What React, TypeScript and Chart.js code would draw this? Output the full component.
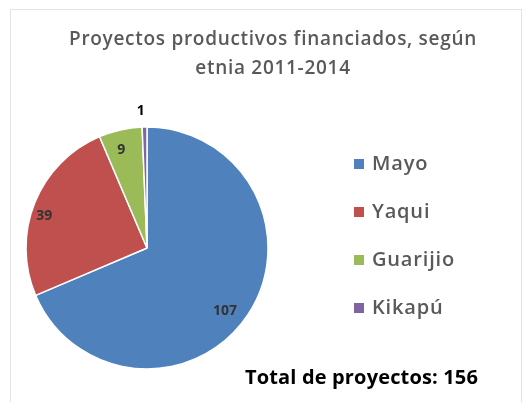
import React, { useEffect, useRef } from "react";
import { Chart, registerables } from "chart.js";

Chart.register(...registerables);

const titleLines = ["Proyectos productivos financiados, según", "etnia 2011-2014"];
const categories = ["Mayo", "Yaqui", "Guarijio", "Kikapú"];
const values = [107, 39, 9, 1];
const colors = ["#4F81BD", "#C0504D", "#9BBB59", "#8064A2"];
const totalPrefix = "Total de proyectos: ";

// label placement (style): fraction of radius and angle shift in degrees
const labelRadius = [0.83, 0.89, 0.84, 1.13];
const labelShift = [5.5, -4.5, -2, -1.5];

const FONT = "'Open Sans', sans-serif";

function fitText(ctx: CanvasRenderingContext2D, text: string, width: number) {
  // letter spacing so that the text spans the wanted width
  (ctx as any).letterSpacing = "0px";
  const w = ctx.measureText(text).width;
  const ls = Math.max(0, (width - w) / text.length);
  (ctx as any).letterSpacing = `${ls}px`;
}

const overlayPlugin = {
  id: "overlay",
  beforeDraw(chart: any) {
    const ctx = chart.ctx;
    ctx.save();
    ctx.fillStyle = "#ffffff";
    ctx.fillRect(0, 0, chart.width, chart.height);
    ctx.strokeStyle = "#e3e3e3";
    ctx.lineWidth = 1;
    ctx.strokeRect(10.5, 9.5, 511, 400);
    ctx.restore();
  },
  afterDatasetsDraw(chart: any) {
    const ctx = chart.ctx;
    ctx.save();
    // data labels
    const meta = chart.getDatasetMeta(0);
    const data = chart.data.datasets[0].data as number[];
    ctx.textAlign = "center";
    ctx.textBaseline = "middle";
    meta.data.forEach((arc: any, i: number) => {
      const p = arc.getProps(["x", "y", "startAngle", "endAngle", "outerRadius"], true);
      const mid = (p.startAngle + p.endAngle) / 2 + (labelShift[i] * Math.PI) / 180;
      const r = p.outerRadius * labelRadius[i];
      ctx.font = `bold 14px ${FONT}`;
      ctx.fillStyle = i === 3 ? "#000000" : "#333333";
      ctx.fillText(String(data[i]), p.x + Math.cos(mid) * r, p.y + Math.sin(mid) * r);
    });

    // title
    ctx.fillStyle = "#595959";
    ctx.font = `600 19px ${FONT}`;
    ctx.textBaseline = "alphabetic";
    ctx.textAlign = "center";
    fitText(ctx, titleLines[0], 408);
    titleLines.forEach((t, i) => ctx.fillText(t, 273, 45 + i * 29));

    // legend
    const labels = chart.data.labels as string[];
    const bg = chart.data.datasets[0].backgroundColor as string[];
    ctx.textAlign = "left";
    ctx.textBaseline = "middle";
    ctx.font = `600 20px ${FONT}`;
    fitText(ctx, "Guarijio", 83);
    labels.forEach((l, i) => {
      const cy = 164 + i * 48;
      ctx.fillStyle = bg[i];
      ctx.fillRect(354, cy - 5, 10, 10);
      ctx.fillStyle = "#595959";
      ctx.fillText(l, 372, cy);
    });

    // total
    const total = data.reduce((a, b) => a + b, 0);
    ctx.fillStyle = "#000000";
    ctx.font = `bold 20px ${FONT}`;
    fitText(ctx, totalPrefix + total, 233);
    ctx.textAlign = "left";
    ctx.textBaseline = "alphabetic";
    ctx.fillText(totalPrefix + total, 245, 384);
    ctx.restore();
  },
};

export default function App() {
  const ref = useRef<HTMLCanvasElement | null>(null);
  useEffect(() => {
    if (!ref.current) return;
    const chart = new Chart(ref.current, {
      type: "pie",
      data: {
        labels: categories,
        datasets: [
          {
            data: values,
            backgroundColor: colors,
            borderColor: "#ffffff",
            borderWidth: 1.5,
            hoverOffset: 0,
          },
        ],
      },
      options: {
        animation: false,
        responsive: false,
        maintainAspectRatio: false,
        radius: 121,
        layout: { padding: { left: 26, right: 525 - 268, top: 127, bottom: 402 - 369 } },
        plugins: {
          legend: { display: false },
          title: { display: false },
          tooltip: { enabled: false },
        },
      } as any,
      plugins: [overlayPlugin],
    });
    return () => chart.destroy();
  }, []);
  return (
    <div style={{ position: "fixed", left: 0, top: 0, width: 525, height: 402, background: "#fff" }}>
      <canvas ref={ref} width={525} height={402} style={{ display: "block", width: 525, height: 402 }} />
    </div>
  );
}
